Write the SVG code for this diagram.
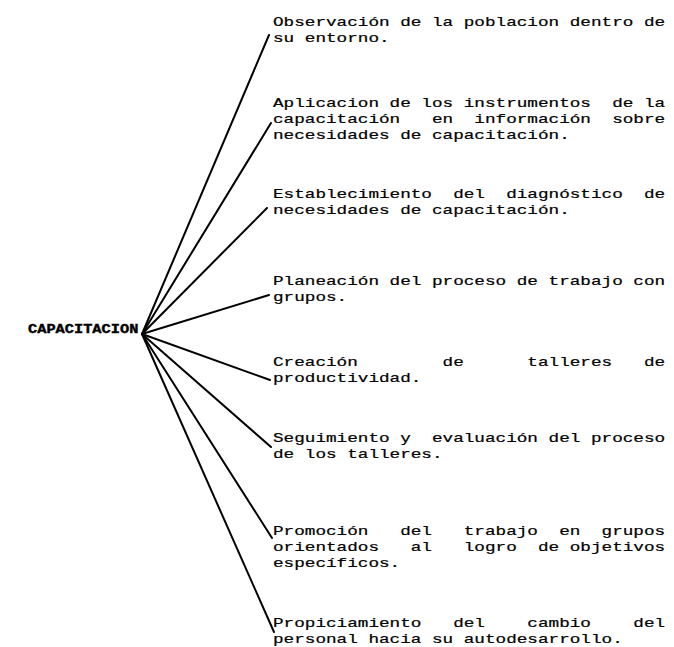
<svg xmlns="http://www.w3.org/2000/svg" width="674" height="647" viewBox="0 0 674 647">
  <style>
    .bg { fill: #ffffff; }
    .item { font-family: "Liberation Mono", "DejaVu Sans Mono", monospace; font-size: 13px; fill: #000000; stroke: #000000; stroke-width: 0.2; white-space: pre; }
    .hub { font-family: "Liberation Mono", "DejaVu Sans Mono", monospace; font-size: 13px; font-weight: bold; fill: #000000; stroke: #000000; stroke-width: 0.4; }
    .conn line { stroke: #000000; stroke-width: 2; stroke-linecap: round; }
  </style>
  <rect class="bg" x="0" y="0" width="674" height="647"/>

  <!-- connectors fanning out from the central concept -->
  <g id="connectors" class="conn">
    <line x1="142" y1="334" x2="269" y2="35"/>
    <line x1="142" y1="334" x2="271" y2="123"/>
    <line x1="142" y1="334" x2="267" y2="208"/>
    <line x1="142" y1="334" x2="269" y2="295"/>
    <line x1="142" y1="334" x2="270" y2="380"/>
    <line x1="142" y1="334" x2="271" y2="447"/>
    <line x1="142" y1="334" x2="272" y2="538"/>
    <line x1="142" y1="334" x2="274" y2="632"/>
  </g>

  <!-- central concept -->
  <g id="capacitacion">
    <text class="hub" transform="translate(28 333) scale(1.18 1)" x="0" y="0">CAPACITACION</text>
  </g>

  <!-- activities, wide monospaced lines of 37 cells -->
  <g id="observacion">
    <text class="item" xml:space="preserve" transform="translate(273 26) scale(1.36 1)"><tspan x="0" y="0">Observación de la poblacion dentro de</tspan><tspan x="0" y="16">su entorno.</tspan></text>
  </g>
  <g id="aplicacion">
    <text class="item" xml:space="preserve" transform="translate(273 107) scale(1.36 1)"><tspan x="0" y="0">Aplicacion de los instrumentos  de la</tspan><tspan x="0" y="16">capacitación   en  información  sobre</tspan><tspan x="0" y="32">necesidades de capacitación.</tspan></text>
  </g>
  <g id="diagnostico">
    <text class="item" xml:space="preserve" transform="translate(273 198) scale(1.36 1)"><tspan x="0" y="0">Establecimiento  del  diagnóstico  de</tspan><tspan x="0" y="16">necesidades de capacitación.</tspan></text>
  </g>
  <g id="planeacion">
    <text class="item" xml:space="preserve" transform="translate(273 285) scale(1.36 1)"><tspan x="0" y="0">Planeación del proceso de trabajo con</tspan><tspan x="0" y="16">grupos.</tspan></text>
  </g>
  <g id="talleres">
    <text class="item" xml:space="preserve" transform="translate(273 366) scale(1.36 1)"><tspan x="0" y="0">Creación        de      talleres   de</tspan><tspan x="0" y="16">productividad.</tspan></text>
  </g>
  <g id="seguimiento">
    <text class="item" xml:space="preserve" transform="translate(273 442) scale(1.36 1)"><tspan x="0" y="0">Seguimiento y  evaluación del proceso</tspan><tspan x="0" y="16">de los talleres.</tspan></text>
  </g>
  <g id="promocion">
    <text class="item" xml:space="preserve" transform="translate(273 535) scale(1.36 1)"><tspan x="0" y="0">Promoción   del   trabajo  en  grupos</tspan><tspan x="0" y="16">orientados   al   logro  de objetivos</tspan><tspan x="0" y="32">específicos.</tspan></text>
  </g>
  <g id="propiciamiento">
    <text class="item" xml:space="preserve" transform="translate(273 627) scale(1.36 1)"><tspan x="0" y="0">Propiciamiento   del    cambio    del</tspan><tspan x="0" y="16">personal hacia su autodesarrollo.</tspan></text>
  </g>
</svg>
